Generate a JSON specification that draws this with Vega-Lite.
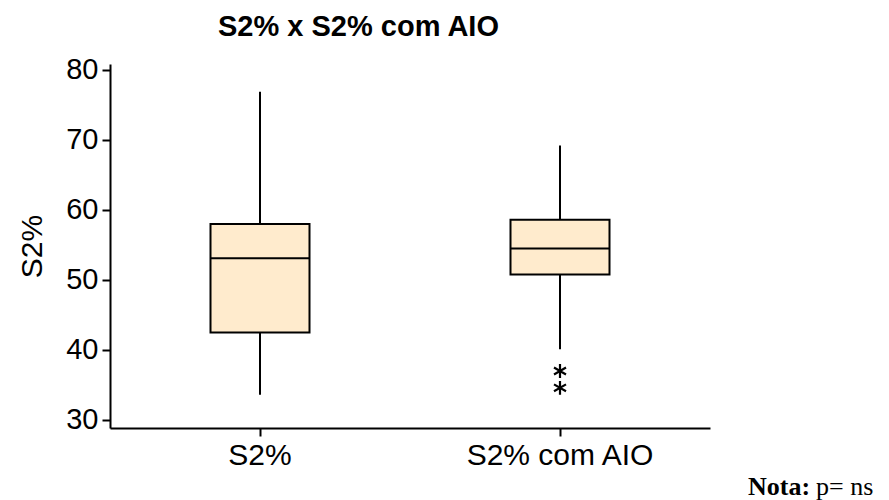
{
  "$schema": "https://vega.github.io/schema/vega-lite/v6.json",
  "width": 600,
  "height": 364,
  "autosize": {"type": "none"},
  "padding": {"left": 110, "top": 64, "right": 179, "bottom": 72},
  "background": "white",
  "title": {
    "text": "S2% x S2% com AIO",
    "anchor": "start",
    "frame": "group",
    "dx": 108,
    "offset": 14,
    "font": "Liberation Sans",
    "fontSize": 29,
    "fontWeight": "bold",
    "color": "black"
  },
  "datasets": {
    "caixas": [
      {"grupo": "S2%", "minimo": 33.6, "q1": 42.5, "mediana": 53.1, "q3": 58.0, "maximo": 76.9},
      {"grupo": "S2% com AIO", "minimo": 40.1, "q1": 50.8, "mediana": 54.5, "q3": 58.6, "maximo": 69.2}
    ],
    "atipicos": [
      {"grupo": "S2% com AIO", "valor": 37.0},
      {"grupo": "S2% com AIO", "valor": 34.6}
    ]
  },
  "encoding": {
    "x": {"field": "grupo", "type": "nominal", "title": null, "scale": {"paddingInner": 0, "paddingOuter": 0}},
    "y": {"type": "quantitative", "title": "S2%", "scale": {"domain": [28.857, 80.857], "nice": false, "zero": false}, "axis": {"values": [30, 40, 50, 60, 70, 80]}}
  },
  "layer": [
    {
      "data": {"name": "caixas"},
      "mark": {"type": "rule", "color": "black", "strokeWidth": 2},
      "encoding": {
        "y": {"field": "minimo", "type": "quantitative"},
        "y2": {"field": "maximo"}
      }
    },
    {
      "data": {"name": "caixas"},
      "mark": {"type": "bar", "size": 99, "fill": "#ffebcd", "stroke": "black", "strokeWidth": 2},
      "encoding": {
        "y": {"field": "q1", "type": "quantitative"},
        "y2": {"field": "q3"}
      }
    },
    {
      "data": {"name": "caixas"},
      "mark": {"type": "tick", "size": 99, "thickness": 2, "color": "black", "opacity": 1, "orient": "horizontal"},
      "encoding": {
        "y": {"field": "mediana", "type": "quantitative"}
      }
    },
    {
      "data": {"name": "atipicos"},
      "mark": {
        "type": "point",
        "shape": "M0,-1L0,1M-0.87,-0.5L0.87,0.5M-0.87,0.5L0.87,-0.5",
        "size": 190,
        "filled": false,
        "stroke": "black",
        "strokeWidth": 2.2,
        "opacity": 1
      },
      "encoding": {
        "y": {"field": "valor", "type": "quantitative"}
      }
    },
    {
      "data": {"values": [{"grupo": "S2% com AIO", "texto": "Nota:", "pos": 19.3}]},
      "mark": {
        "type": "text",
        "font": "Liberation Serif",
        "fontSize": 26,
        "fontWeight": "bold",
        "align": "left",
        "baseline": "alphabetic",
        "color": "black",
        "dx": 188
      },
      "encoding": {
        "y": {"field": "pos", "type": "quantitative"},
        "text": {"field": "texto"}
      }
    },
    {
      "data": {"values": [{"grupo": "S2% com AIO", "texto": "p= ns", "pos": 19.3}]},
      "mark": {
        "type": "text",
        "font": "Liberation Serif",
        "fontSize": 26,
        "align": "left",
        "baseline": "alphabetic",
        "color": "black",
        "dx": 256
      },
      "encoding": {
        "y": {"field": "pos", "type": "quantitative"},
        "text": {"field": "texto"}
      }
    }
  ],
  "config": {
    "view": {"stroke": null},
    "axis": {
      "grid": false,
      "domainColor": "black",
      "domainWidth": 2,
      "tickColor": "black",
      "tickWidth": 2,
      "labelColor": "black",
      "labelFont": "Liberation Sans",
      "titleFont": "Liberation Sans",
      "titleColor": "black",
      "titleFontWeight": "normal",
      "labelLimit": 0,
      "labelOverlap": false
    },
    "axisX": {"labelFontSize": 30, "tickSize": 8, "labelPadding": 4, "labelAngle": 0},
    "axisY": {"labelFontSize": 29, "tickSize": 8, "labelPadding": 4, "titleFontSize": 30, "titlePadding": 18}
  }
}
